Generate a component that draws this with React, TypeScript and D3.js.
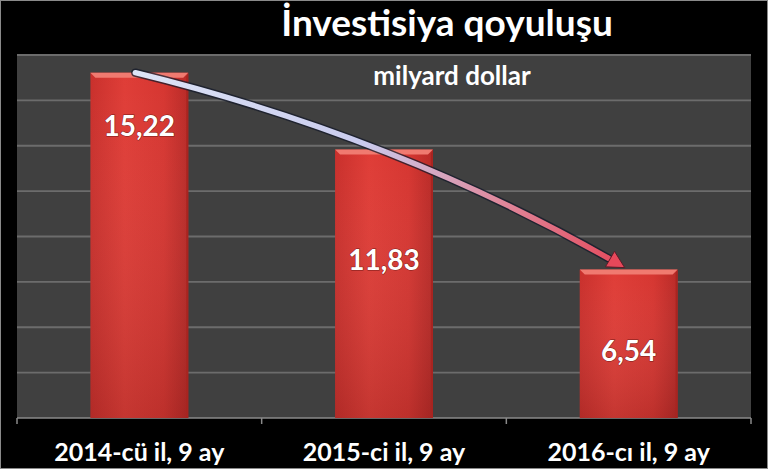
import React from "react";
import * as d3 from "d3";

const categories = ["2014-cü il, 9 ay", "2015-ci il, 9 ay", "2016-cı il, 9 ay"];
const values = [15.22, 11.83, 6.54];
const valueLabels = ["15,22", "11,83", "6,54"];
const labelAnchors = [12.9, 7.0, 3.0];
const yTicks = [0, 2, 4, 6, 8, 10, 12, 14, 16];
const title = "İnvestisiya qoyuluşu";
const subtitle = "milyard dollar";

const W = 768;
const H = 469;
const plot = { left: 17, right: 751, top: 55, bottom: 418 };
const font = "Lato, 'Open Sans', sans-serif";

export default function App() {
  const x = d3
    .scaleBand<string>()
    .domain(categories)
    .range([plot.left, plot.right])
    .paddingInner(0.6)
    .paddingOuter(0.3);
  const band = d3.scaleBand<string>().domain(categories).range([plot.left, plot.right]);
  const y = d3.scaleLinear().domain([0, 16]).range([plot.bottom, plot.top]);

  const p0: [number, number] = [x(categories[0])! + x.bandwidth() / 2 - 4, y(values[0])];
  const p2: [number, number] = [x(categories[2])! + x.bandwidth() / 2 - 4, y(values[2]) - 2];
  const c: [number, number] = [p0[0] + 0.545 * (p2[0] - p0[0]), p0[1] + 0.335 * (p2[1] - p0[1])];

  // arrow head direction
  const ang = Math.atan2(p2[1] - c[1], p2[0] - c[0]);
  const hl = 17, hw = 9;
  const baseX = p2[0] - hl * Math.cos(ang);
  const baseY = p2[1] - hl * Math.sin(ang);
  const head = [
    [p2[0], p2[1]],
    [baseX + hw * Math.sin(ang), baseY - hw * Math.cos(ang)],
    [baseX - hw * Math.sin(ang), baseY + hw * Math.cos(ang)],
  ];
  // shaft: quadratic sub-curve from t=0 to tEnd
  const tEnd = 0.965;
  const bx = (1 - tEnd) ** 2 * p0[0] + 2 * (1 - tEnd) * tEnd * c[0] + tEnd ** 2 * p2[0];
  const by = (1 - tEnd) ** 2 * p0[1] + 2 * (1 - tEnd) * tEnd * c[1] + tEnd ** 2 * p2[1];
  const cx2 = p0[0] + tEnd * (c[0] - p0[0]);
  const cy2 = p0[1] + tEnd * (c[1] - p0[1]);
  const shaft = d3.path();
  shaft.moveTo(p0[0], p0[1]);
  shaft.quadraticCurveTo(cx2, cy2, bx, by);

  return (
    <svg
      width={W}
      height={H}
      style={{ position: "absolute", left: 0, top: 0, display: "block" }}
    >
      <defs>
        <linearGradient id="barH" x1="0" x2="1" y1="0" y2="0">
          <stop offset="0" stopColor="#c9302c" />
          <stop offset="0.35" stopColor="#df3d37" />
          <stop offset="0.75" stopColor="#d63631" />
          <stop offset="1" stopColor="#b82a27" />
        </linearGradient>
        <linearGradient id="barV" x1="0" x2="0" y1="0" y2="1">
          <stop offset="0" stopColor="#ffffff" stopOpacity="0" />
          <stop offset="1" stopColor="#000000" stopOpacity="0.12" />
        </linearGradient>
        <linearGradient id="arrowG" gradientUnits="userSpaceOnUse" x1={p0[0]} y1={p0[1]} x2={p2[0]} y2={p2[1]}>
          <stop offset="0" stopColor="#dde4f6" />
          <stop offset="0.45" stopColor="#c9cbee" />
          <stop offset="0.72" stopColor="#df8ca0" />
          <stop offset="1" stopColor="#e5485a" />
        </linearGradient>
      </defs>
      <rect x={0} y={0} width={W} height={H} fill="#000" />
      <rect x={0.5} y={0.5} width={W - 1} height={H - 1} fill="none" stroke="#8a8a8a" strokeWidth={1} />
      <rect
        x={plot.left}
        y={plot.top}
        width={plot.right - plot.left}
        height={plot.bottom - plot.top}
        fill="#404040"
      />
      {yTicks.map((t) => (
        <line
          key={t}
          x1={plot.left}
          x2={plot.right}
          y1={y(t)}
          y2={y(t)}
          stroke={t === 0 ? "#8a8a8a" : "#6c6c6c"}
          strokeWidth={t === 0 ? 1.5 : 1.8}
        />
      ))}
      {[...categories.map((cat) => band(cat)!), plot.right].map((bx0, i) => (
        <line key={i} x1={bx0} x2={bx0} y1={plot.bottom} y2={plot.bottom + 6} stroke="#8a8a8a" strokeWidth={1.5} />
      ))}
      {categories.map((cat, i) => {
        const bx0 = x(cat)!;
        const by0 = y(values[i]);
        const bw = x.bandwidth();
        const bh = plot.bottom - by0;
        return (
          <g key={cat}>
            <rect x={bx0} y={by0} width={bw} height={bh} fill="url(#barH)" />
            <rect x={bx0} y={by0} width={bw} height={bh} fill="url(#barV)" />
            <polygon
              points={`${bx0},${by0} ${bx0 + bw},${by0} ${bx0 + bw - 5},${by0 + 5} ${bx0 + 5},${by0 + 5}`}
              fill="#f07a70"
            />
            <polygon
              points={`${bx0 + bw},${by0} ${bx0 + bw},${by0 + bh} ${bx0 + bw - 2},${by0 + bh} ${bx0 + bw - 2},${by0 + 4}`}
              fill="#a82420"
            />
          </g>
        );
      })}
      <path d={shaft.toString()} fill="none" stroke="#141a2a" strokeWidth={8.5} strokeLinecap="round" opacity={0.75} />
      <path d={shaft.toString()} fill="none" stroke="url(#arrowG)" strokeWidth={5.5} strokeLinecap="round" />
      <polygon points={head.map((p) => p.join(",")).join(" ")} fill="#e6485a" stroke="#5a1c28" strokeWidth={1} />
      {categories.map((cat, i) => (
        <text
          key={cat}
          x={x(cat)! + x.bandwidth() / 2}
          y={y(labelAnchors[i])}
          textAnchor="middle"
          dominantBaseline="central"
          fill="#ffffff"
          fontFamily={font}
          fontWeight={700}
          fontSize={28}
          style={{ paintOrder: "stroke" }}
          stroke="#7a1a18"
          strokeWidth={1}
        >
          {valueLabels[i]}
        </text>
      ))}
      {categories.map((cat) => (
        <text
          key={cat}
          x={band(cat)! + band.bandwidth() / 2}
          y={461}
          textAnchor="middle"
          fill="#ffffff"
          fontFamily={font}
          fontWeight={700}
          fontSize={25}
        >
          {cat}
        </text>
      ))}
      <text x={447} y={36} textAnchor="middle" fill="#fff" fontFamily={font} fontWeight={700} fontSize={37}>
        {title}
      </text>
      <text x={452} y={85} textAnchor="middle" fill="#fff" fontFamily={font} fontWeight={700} fontSize={26}>
        {subtitle}
      </text>
    </svg>
  );
}
